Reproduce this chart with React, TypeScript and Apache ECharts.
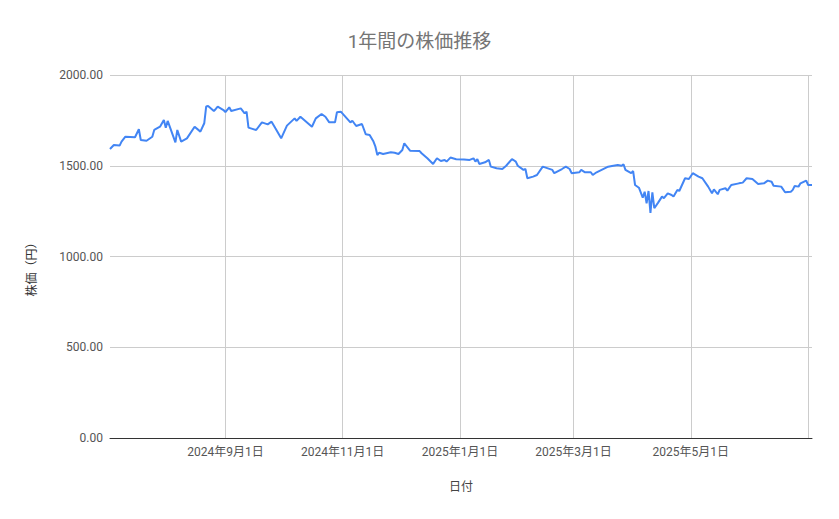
import React, { useEffect, useRef } from "react";
import * as echarts from "echarts";

const titleText = "1年間の株価推移";
const xAxisName = "日付";
const yAxisName = "株価（円）";

const dates = [
  "2024-07-03", "2024-07-05", "2024-07-08", "2024-07-09", "2024-07-11", "2024-07-16", "2024-07-18", "2024-07-19",
  "2024-07-22", "2024-07-25", "2024-07-26", "2024-07-29", "2024-07-31", "2024-08-01", "2024-08-02", "2024-08-04",
  "2024-08-06", "2024-08-07", "2024-08-09", "2024-08-12", "2024-08-16", "2024-08-19", "2024-08-21", "2024-08-22",
  "2024-08-23", "2024-08-26", "2024-08-27", "2024-08-28", "2024-08-31", "2024-09-01", "2024-09-03", "2024-09-04",
  "2024-09-09", "2024-09-11", "2024-09-12", "2024-09-13", "2024-09-17", "2024-09-20", "2024-09-23", "2024-09-25",
  "2024-09-27", "2024-09-30", "2024-10-03", "2024-10-07", "2024-10-08", "2024-10-10", "2024-10-16", "2024-10-18",
  "2024-10-21", "2024-10-23", "2024-10-25", "2024-10-28", "2024-10-29", "2024-10-31", "2024-11-05", "2024-11-06",
  "2024-11-08", "2024-11-11", "2024-11-13", "2024-11-15", "2024-11-17", "2024-11-18", "2024-11-19", "2024-11-20",
  "2024-11-22", "2024-11-26", "2024-11-28", "2024-11-30", "2024-12-02", "2024-12-03", "2024-12-06", "2024-12-11",
  "2024-12-12", "2024-12-15", "2024-12-18", "2024-12-20", "2024-12-22", "2024-12-24", "2024-12-25", "2024-12-27",
  "2024-12-30", "2025-01-03", "2025-01-06", "2025-01-08", "2025-01-09", "2025-01-10", "2025-01-11", "2025-01-14",
  "2025-01-16", "2025-01-17", "2025-01-20", "2025-01-23", "2025-01-25", "2025-01-28", "2025-01-30", "2025-01-31",
  "2025-02-03", "2025-02-04", "2025-02-05", "2025-02-08", "2025-02-10", "2025-02-13", "2025-02-18", "2025-02-19",
  "2025-02-23", "2025-02-25", "2025-02-27", "2025-02-28", "2025-03-04", "2025-03-05", "2025-03-07", "2025-03-10",
  "2025-03-11", "2025-03-13", "2025-03-19", "2025-03-21", "2025-03-24", "2025-03-26", "2025-03-27", "2025-03-28",
  "2025-03-31", "2025-04-01", "2025-04-02", "2025-04-04", "2025-04-06", "2025-04-07", "2025-04-08", "2025-04-09",
  "2025-04-10", "2025-04-11", "2025-04-12", "2025-04-14", "2025-04-16", "2025-04-17", "2025-04-19", "2025-04-21",
  "2025-04-22", "2025-04-24", "2025-04-25", "2025-04-28", "2025-04-30", "2025-05-02", "2025-05-05", "2025-05-07",
  "2025-05-10", "2025-05-12", "2025-05-13", "2025-05-15", "2025-05-16", "2025-05-19", "2025-05-20", "2025-05-22",
  "2025-05-26", "2025-05-28", "2025-05-30", "2025-06-02", "2025-06-05", "2025-06-08", "2025-06-10", "2025-06-12",
  "2025-06-13", "2025-06-17", "2025-06-19", "2025-06-22", "2025-06-23", "2025-06-24", "2025-06-26", "2025-06-27",
  "2025-06-30", "2025-07-01", "2025-07-03",
];

const prices = [
  1592, 1614, 1611, 1633, 1660, 1657, 1701, 1642,
  1638, 1660, 1697, 1715, 1752, 1710, 1747, 1688,
  1629, 1697, 1633, 1651, 1715, 1688, 1734, 1826,
  1829, 1802, 1813, 1826, 1807, 1795, 1822, 1802,
  1816, 1789, 1798, 1710, 1697, 1739, 1728, 1743,
  1706, 1651, 1721, 1761, 1747, 1770, 1715, 1761,
  1785, 1770, 1739, 1739, 1795, 1798, 1739, 1748,
  1719, 1730, 1673, 1670, 1633, 1605, 1559, 1572,
  1565, 1574, 1572, 1565, 1587, 1624, 1583, 1581,
  1569, 1541, 1510, 1541, 1526, 1532, 1523, 1545,
  1536, 1535, 1532, 1541, 1523, 1537, 1510, 1519,
  1532, 1495, 1486, 1482, 1500, 1537, 1523, 1500,
  1477, 1482, 1431, 1440, 1449, 1495, 1477, 1459,
  1482, 1495, 1482, 1459, 1464, 1477, 1464, 1464,
  1449, 1464, 1495, 1499, 1504, 1500, 1508, 1477,
  1459, 1471, 1394, 1379, 1324, 1357, 1293, 1361,
  1240, 1354, 1266, 1297, 1330, 1321, 1348, 1339,
  1330, 1367, 1361, 1431, 1427, 1459, 1440, 1431,
  1385, 1348, 1370, 1343, 1367, 1376, 1363, 1394,
  1403, 1407, 1431, 1427, 1400, 1403, 1418, 1412,
  1390, 1385, 1354, 1357, 1367, 1389, 1385, 1403,
  1418, 1394, 1394,
];

const xRange = ["2024-07-03", "2025-07-03"];
const gridDates = ["2024-09-01", "2024-11-01", "2025-01-01", "2025-03-01", "2025-05-01", "2025-07-01"];
const labelDates = ["2024-09-01", "2024-11-01", "2025-01-01", "2025-03-01", "2025-05-01"];

const toMs = (s: string) => {
  const [y, m, d] = s.split("-").map(Number);
  return Date.UTC(y, m - 1, d);
};

const FONT = "Roboto, 'Noto Sans CJK JP', sans-serif";

export default function App() {
  const ref = useRef<HTMLDivElement>(null);
  useEffect(() => {
    if (!ref.current) return;
    const chart = echarts.init(ref.current, null, { renderer: "svg" });
    const data = dates.map((d, i) => [toMs(d), prices[i]]);
    chart.setOption({
      animation: false,
      backgroundColor: "#ffffff",
      title: {
        text: titleText,
        left: "center",
        top: 27,
        textStyle: { fontFamily: FONT, fontSize: 19, fontWeight: "normal", color: "#757575" },
      },
      grid: { left: 110, right: 27, top: 75, bottom: 81, containLabel: false },
      xAxis: {
        type: "value",
        min: toMs(xRange[0]),
        max: toMs(xRange[1]),
        scale: true,
        name: xAxisName,
        nameLocation: "middle",
        nameGap: 43,
        nameTextStyle: { fontFamily: FONT, fontSize: 12, color: "#444" },
        axisLine: { show: true, onZero: false, lineStyle: { color: "#333", width: 1 } },
        axisTick: { show: false, customValues: gridDates.map(toMs) },
        axisLabel: {
          customValues: labelDates.map(toMs),
          margin: 8,
          fontFamily: FONT,
          fontSize: 12,
          color: "#555",
          formatter: (v: number) => {
            const d = new Date(v);
            return `${d.getUTCFullYear()}年${d.getUTCMonth() + 1}月${d.getUTCDate()}日`;
          },
        },
        splitLine: { show: true, lineStyle: { color: "#cccccc", width: 1 } },
      },
      yAxis: {
        type: "value",
        min: 0,
        max: 2000,
        interval: 500,
        name: yAxisName,
        nameLocation: "middle",
        nameRotate: 90,
        nameGap: 72,
        nameTextStyle: { fontFamily: FONT, fontSize: 12, color: "#333", padding: [0, 20, 0, 0] },
        axisLine: { show: false },
        axisTick: { show: false },
        axisLabel: {
          margin: 7,
          fontFamily: FONT,
          fontSize: 12,
          color: "#555",
          formatter: (v: number) => v.toFixed(2),
        },
        splitLine: { show: true, lineStyle: { color: "#cccccc", width: 1 } },
      },
      series: [
        {
          type: "line",
          data,
          showSymbol: false,
          symbol: "none",
          lineStyle: { color: "#4285f4", width: 2 },
          itemStyle: { color: "#4285f4" },
        },
      ],
    });
    return () => chart.dispose();
  }, []);
  return (
    <div
      ref={ref}
      style={{ position: "fixed", left: 0, top: 0, width: 839, height: 519 }}
    />
  );
}
